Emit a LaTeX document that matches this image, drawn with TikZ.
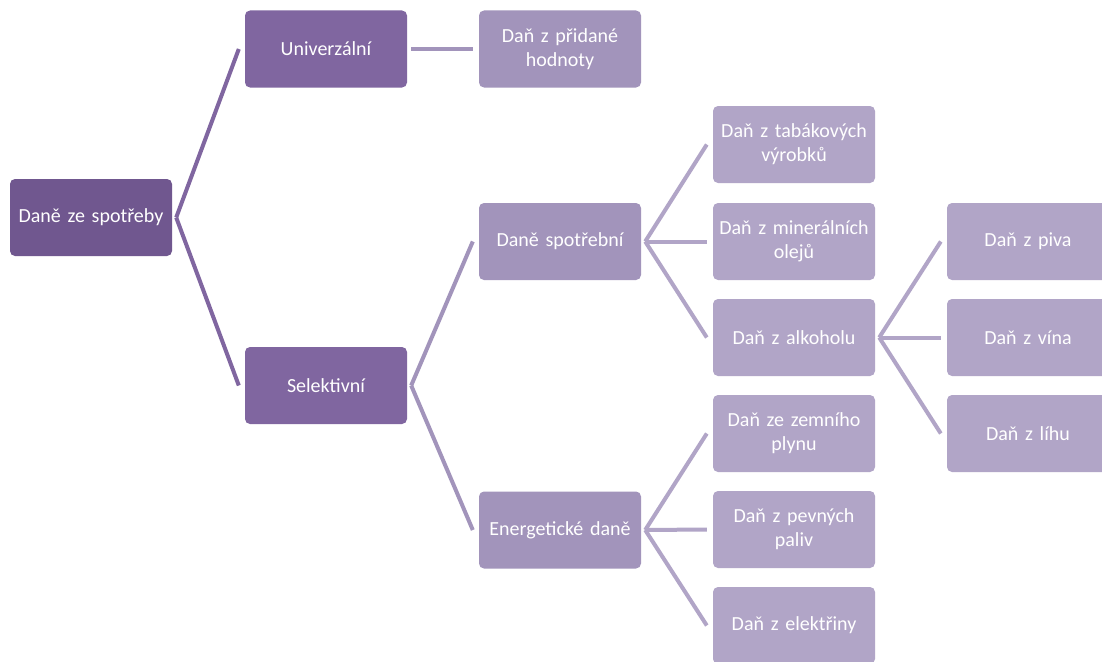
\documentclass[tikz,border=0pt]{standalone}
\usepackage{fontspec}
\setmainfont{Carlito}
\usetikzlibrary{calc}
\definecolor{rootc}{HTML}{70578F}
\definecolor{lvla}{HTML}{8066A0}
\definecolor{lvlb}{HTML}{A294BB}
\definecolor{lvlc}{HTML}{B1A5C7}
\tikzset{
  box/.style={rounded corners=5pt, minimum width=162pt, minimum height=77pt,
    text width=158pt, align=center, text=white, inner sep=0pt,
    font=\fontsize{20}{24}\selectfont},
  rootbox/.style={box, fill=rootc},
  boxa/.style={box, fill=lvla},
  boxb/.style={box, fill=lvlb},
  boxc/.style={box, fill=lvlc},
  link/.style={line width=4pt},
}
% connector from the right side of one box to the left side of another
\newcommand{\joinboxes}[3]{%
  \draw[link, #1] ($(#2.east)+(4,0)$) -- ($(#3.west)+(-6,0)$);}
\begin{document}
\begin{tikzpicture}[x=1pt, y=-1pt]
  \useasboundingbox (0,0) rectangle (1102,661);
  \clip (0,0) rectangle (1102,661);
  \fill[white] (0,0) rectangle (1102,661);

  % hierarchy levels
  \node[rootbox] (root) at (91,217.5) {Daně ze spotřeby};

  \node[boxa] (univ) at (326,49) {Univerzální};
  \node[boxa] (sel) at (326,385.5) {Selektivní};

  \node[boxb] (dph) at (560,49) {Daň z přidané\\hodnoty};
  \node[boxb] (spot) at (560,241.5) {Daně spotřební};
  \node[boxb] (ener) at (560,530) {Energetické daně};

  \node[boxc] (tab) at (794,144.5) {Daň z tabákových\\výrobků};
  \node[boxc] (min) at (794,241.5) {Daň z minerálních\\olejů};
  \node[boxc] (alk) at (794,337.5) {Daň z alkoholu};
  \node[boxc] (zem) at (794,433.5) {Daň ze zemního\\plynu};
  \node[boxc] (pev) at (794,529.5) {Daň z pevných\\paliv};
  \node[boxc] (ele) at (794,625.5) {Daň z elektřiny};

  \node[boxc] (piva) at (1028,241.5) {Daň z piva};
  \node[boxc] (vina) at (1028,337.5) {Daň z vína};
  \node[boxc] (lihu) at (1028,433.5) {Daň z líhu};

  % connectors
  \joinboxes{lvla}{root}{univ}
  \joinboxes{lvla}{root}{sel}

  \joinboxes{lvlb}{univ}{dph}
  \joinboxes{lvlb}{sel}{spot}
  \joinboxes{lvlb}{sel}{ener}

  \joinboxes{lvlc}{spot}{tab}
  \joinboxes{lvlc}{spot}{min}
  \joinboxes{lvlc}{spot}{alk}
  \joinboxes{lvlc}{ener}{zem}
  \joinboxes{lvlc}{ener}{pev}
  \joinboxes{lvlc}{ener}{ele}

  \joinboxes{lvlc}{alk}{piva}
  \joinboxes{lvlc}{alk}{vina}
  \joinboxes{lvlc}{alk}{lihu}
\end{tikzpicture}
\end{document}
